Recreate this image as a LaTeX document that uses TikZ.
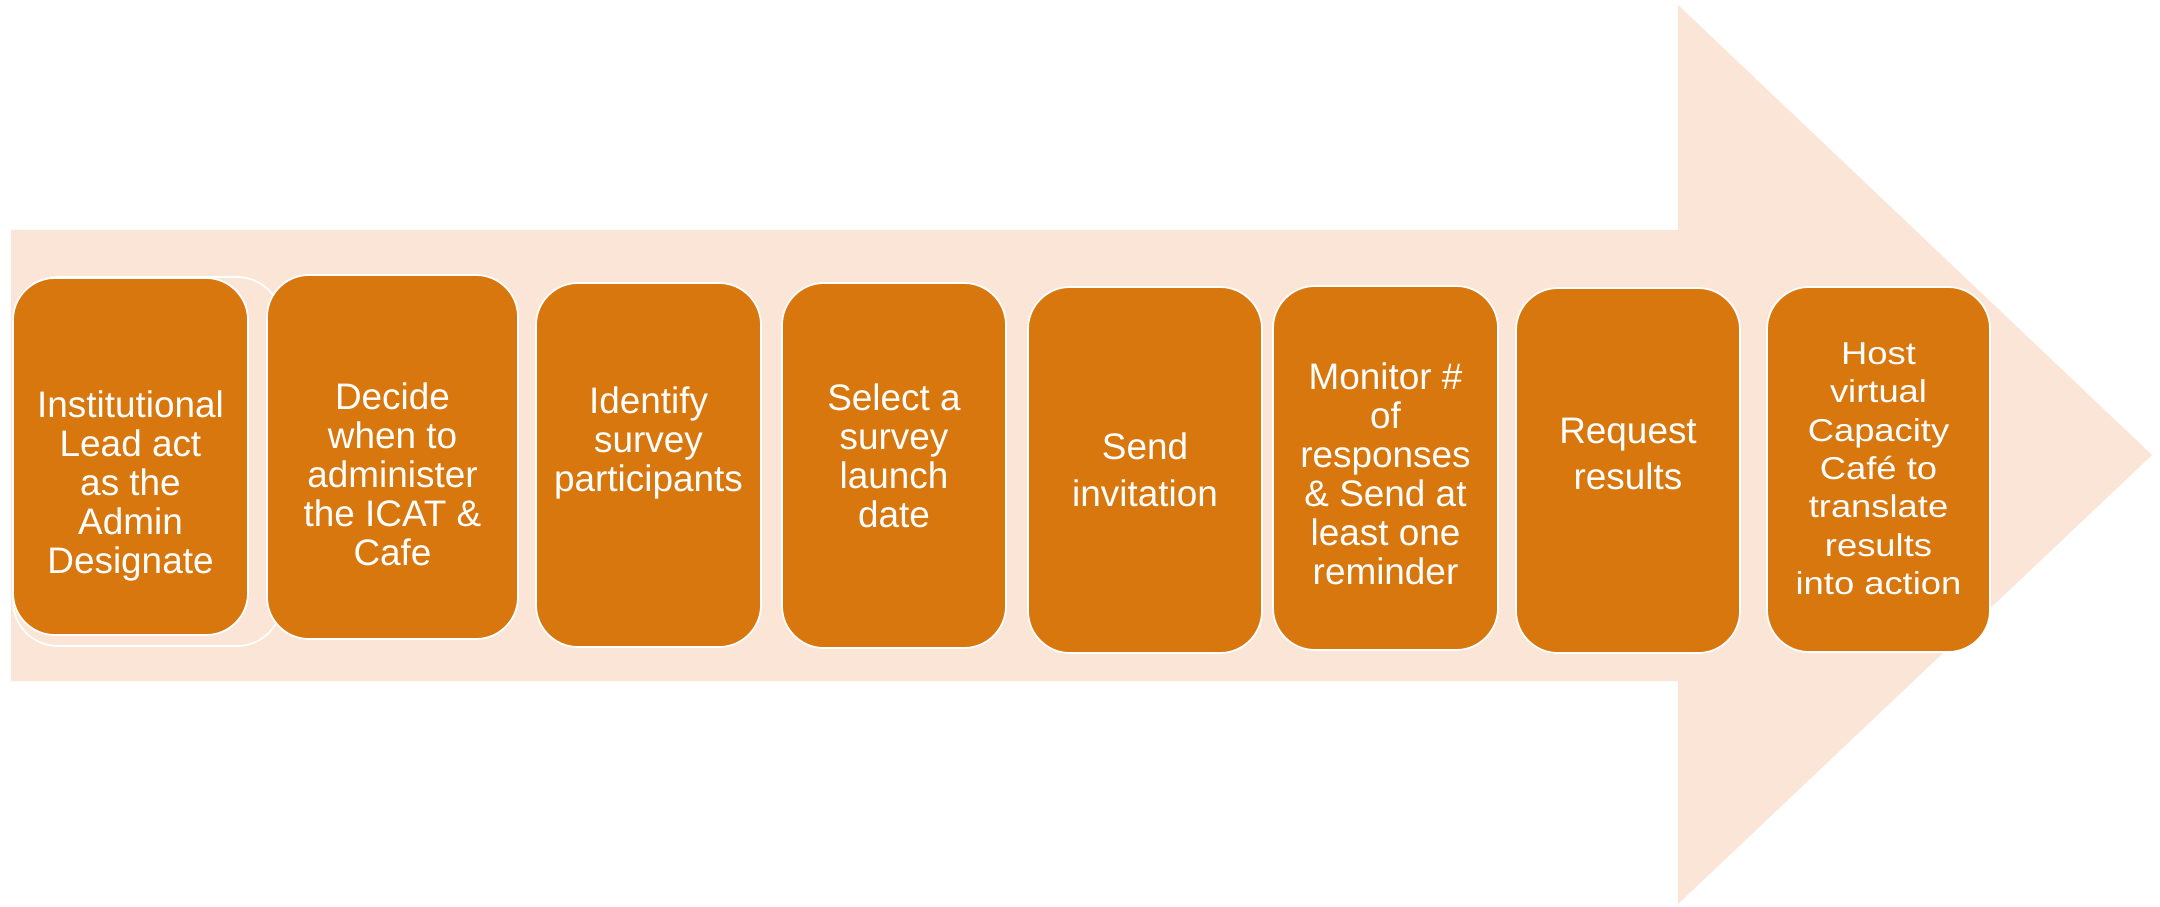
\documentclass[tikz,border=0pt]{standalone}
\usepackage{fontspec}
\setmainfont{Liberation Sans}
\newfontfamily\widefont{Liberation Sans}[FakeStretch=1.15]
\usepackage{tikz}
\usetikzlibrary{calc}
\definecolor{PEACH}{HTML}{FBE5D6}
\definecolor{ORANGE}{HTML}{D9770F}
\definecolor{WHITE}{HTML}{FFFFFF}
\tikzset{
  stepbox/.style={fill=ORANGE, draw=WHITE, line width=0.5pt, rounded corners=0.42cm},
  steptext/.style={WHITE, anchor=north, inner sep=0pt, align=center,
    font=\fontsize{10.5}{11.1}\selectfont}
}
\begin{document}
\begin{tikzpicture}
    \useasboundingbox (0,0) rectangle (21.6,9.06);
    % big arrow behind the steps
    \fill[PEACH] (0.11,6.76) -- (16.78,6.76) -- (16.78,9.01) -- (21.52,4.51)
        -- (16.78,0.02) -- (16.78,2.25) -- (0.11,2.25) -- cycle;
    %
    \draw[WHITE, line width=0.5pt, rounded corners=0.45cm] (0.13,6.29) rectangle (2.82,2.60);
    %
    \draw[stepbox] (0.13,6.28) rectangle (2.48,2.71);
    \draw[stepbox] (2.67,6.31) rectangle (5.18,2.67);
    \draw[stepbox] (5.36,6.23) rectangle (7.61,2.59);
    \draw[stepbox] (7.82,6.23) rectangle (10.06,2.58);
    \draw[stepbox] (10.28,6.19) rectangle (12.62,2.53);
    \draw[stepbox] (12.73,6.20) rectangle (14.98,2.56);
    \draw[stepbox] (15.16,6.18) rectangle (17.40,2.53);
    \draw[stepbox] (17.67,6.19) rectangle (19.90,2.54);
    %
    \node[steptext] (lead) at (1.305,5.16) {Institutional\\Lead act\\as the\\Admin\\Designate};
    \node[steptext] (decide) at (3.925,5.24) {Decide\\when to\\administer\\the ICAT \&\\Cafe};
    \node[steptext] (identify) at (6.485,5.20) {Identify\\survey\\participants};
    \node[steptext] (launch) at (8.94,5.23) {Select a\\survey\\launch\\date};
    \node[steptext] (invite) at (11.45,4.74) {Send\\[2.2pt]invitation};
    \node[steptext] (monitor) at (13.855,5.44) {Monitor \#\\of\\responses\\\& Send at\\least one\\reminder};
    \node[steptext] (request) at (16.28,4.89) {Request\\[2.2pt]results};
    \node[steptext, font=\widefont\fontsize{9}{10.9}\selectfont] (cafe) at (18.785,5.64)
        {Host\\virtual\\Capacity\\Café to\\translate\\results\\into action};
\end{tikzpicture}
\end{document}
